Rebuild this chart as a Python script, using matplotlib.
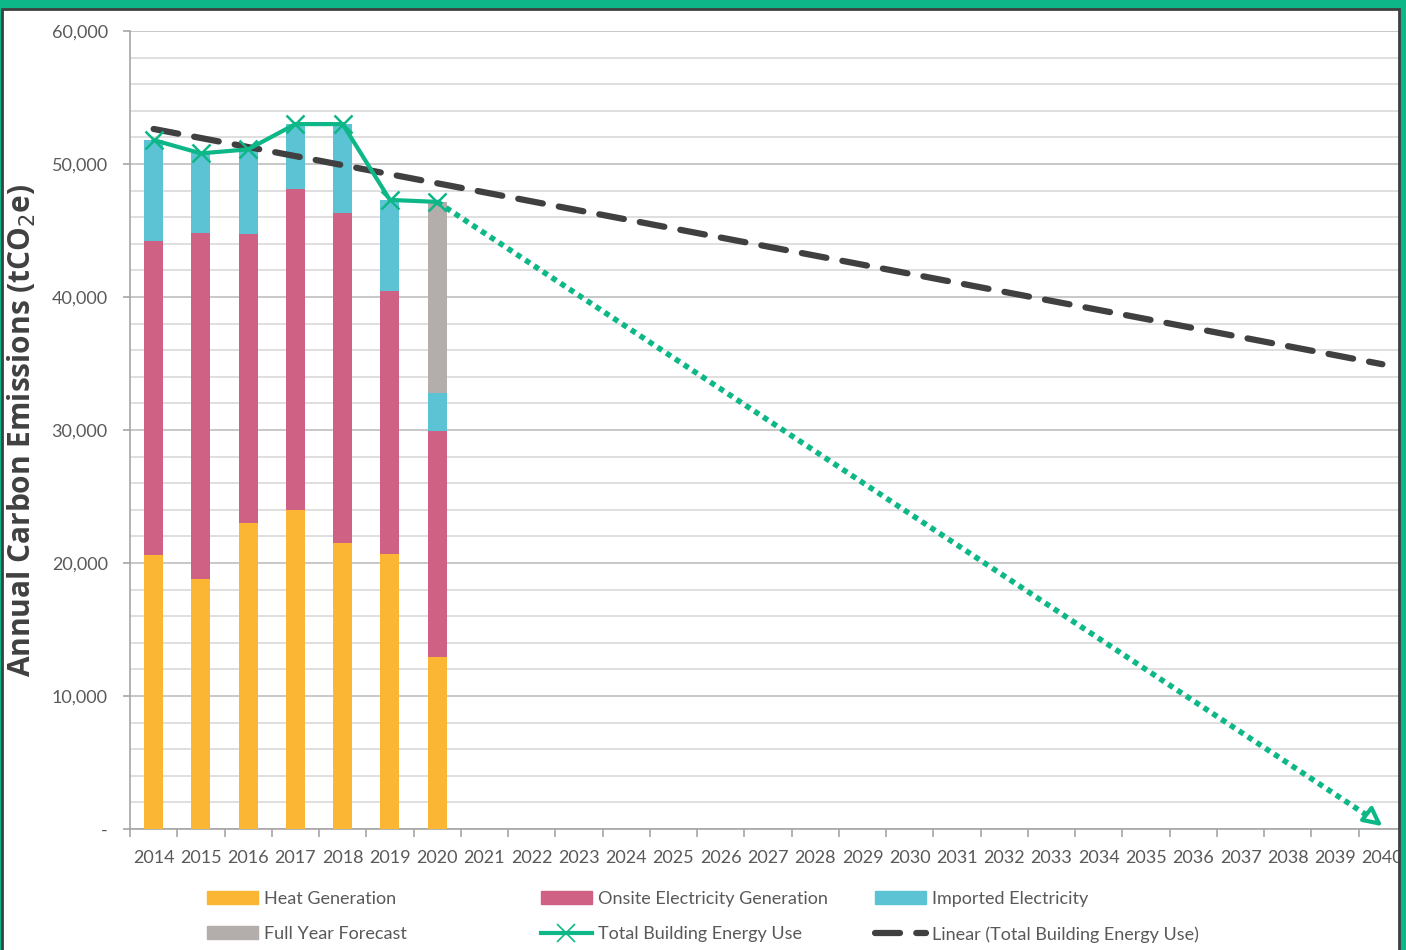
import numpy as np
import matplotlib
matplotlib.use("Agg")
import matplotlib.pyplot as plt
from matplotlib.patches import Patch, Rectangle
from matplotlib.lines import Line2D
from matplotlib.ticker import FixedLocator, FuncFormatter

plt.rcParams["font.family"] = ["Lato", "DejaVu Sans"]

# ---------------------------------------------------------------------------
# Data (tCO2e)
# ---------------------------------------------------------------------------
years = list(range(2014, 2041))
bar_years = [2014, 2015, 2016, 2017, 2018, 2019, 2020]
heat = [20600, 18800, 23000, 24000, 21500, 20700, 12900]
onsite = [23600, 26000, 21700, 24100, 24800, 19750, 17000]
imported = [7600, 6000, 6400, 4900, 6700, 6850, 2850]
forecast = [0, 0, 0, 0, 0, 0, 14400]
target_end = 0  # 2040 target

# Colours
C_HEAT = "#FBB634"
C_ONSITE = "#CF6184"
C_IMPORT = "#5BC3D4"
C_FORECAST = "#B3AEAB"
C_GREEN = "#0DB787"
C_TREND = "#404040"
C_TEXT = "#595959"

fig = plt.figure(figsize=(14.06, 9.5), dpi=100)
ax = fig.add_axes([130 / 1406, 121 / 950, 1276 / 1406, 798 / 950])

x_all = np.arange(len(years))
xb = np.array([years.index(y) for y in bar_years])
heat = np.array(heat)
onsite = np.array(onsite)
imported = np.array(imported)
forecast = np.array(forecast)

w = 0.40
ax.bar(xb, heat, w, color=C_HEAT, zorder=3)
ax.bar(xb, onsite, w, bottom=heat, color=C_ONSITE, zorder=3)
ax.bar(xb, imported, w, bottom=heat + onsite, color=C_IMPORT, zorder=3)
ax.bar(xb, forecast, w, bottom=heat + onsite + imported, color=C_FORECAST, zorder=3)

total = heat + onsite + imported + forecast
ax.plot(xb, total, color=C_GREEN, lw=3, marker="x", ms=13, mew=1.8, zorder=5)

# linear trend of the totals
slope, icpt = np.polyfit(xb, total, 1)
ax.plot(x_all, icpt + slope * x_all, color=C_TREND, lw=4.5,
        dashes=(4, 2.6), dash_capstyle="round", zorder=4)

# dotted path to net zero in 2040
x0, y0 = xb[-1], total[-1]
x1 = years.index(2040)
ax.plot([x0, x1 - 0.25], [y0, target_end + 850], color=C_GREEN, lw=4,
        linestyle=(0, (1.0, 0.9)), zorder=5)
ax.annotate("", xy=(x1 + 0.05, target_end + 80), xytext=(x1 - 0.3, 1050),
            arrowprops=dict(arrowstyle="-|>,head_length=1.1,head_width=0.55",
                            color=C_GREEN, lw=3, fc="white"), zorder=6)

# axes
ax.set_xlim(-0.5, len(years) - 0.5)
ax.set_ylim(0, 60000)
ax.set_xticks(x_all)
ax.set_xticklabels([str(y) for y in years])
ax.xaxis.set_minor_locator(FixedLocator(np.arange(-0.5, len(years), 1.0)))
ax.tick_params(axis="x", which="major", length=0, pad=15, labelsize=13, labelcolor=C_TEXT)
ax.tick_params(axis="x", which="minor", length=6, color="#A6A6A6", width=1.2)

ax.set_yticks(np.arange(0, 60001, 10000))
ax.yaxis.set_minor_locator(FixedLocator(np.arange(0, 60001, 2000)))
ax.yaxis.set_major_formatter(FuncFormatter(lambda v, p: "-" if v == 0 else f"{v:,.0f}"))
ax.tick_params(axis="y", which="major", length=5, color="#A6A6A6", width=1.2,
               labelsize=13, labelcolor=C_TEXT, pad=11)
ax.tick_params(axis="y", which="minor", length=0)
ax.grid(axis="y", which="major", color="#BFBFBF", lw=1.2, zorder=0)
ax.grid(axis="y", which="minor", color="#D9D9D9", lw=1.2, zorder=0)
ax.set_axisbelow(True)

for s in ["top", "right"]:
    ax.spines[s].set_visible(False)
for s in ["left", "bottom"]:
    ax.spines[s].set_color("#A6A6A6")
    ax.spines[s].set_linewidth(1.2)

fig.text(22 / 1406, 1 - 430 / 950, "Annual Carbon Emissions (tCO$_2$e)", rotation=90,
         ha="center", va="center", fontsize=21.5, fontweight="bold", color="#404040",
         family=["Open Sans", "DejaVu Sans"])

# legend: three columns placed like Excel
col1 = [Patch(color=C_HEAT, label="Heat Generation"),
        Patch(color=C_FORECAST, label="Full Year Forecast")]
col2 = [Patch(color=C_ONSITE, label="Onsite Electricity Generation"),
        Line2D([], [], color=C_GREEN, lw=3, marker="x", ms=13, mew=1.2,
               label="Total Building Energy Use")]
col3 = [Patch(color=C_IMPORT, label="Imported Electricity"),
        Line2D([], [], color=C_TREND, lw=4.5, dashes=(4, 2.6), dash_capstyle="round",
               label="Linear (Total Building Energy Use)")]
for handles, xpos in [(col1, 207), (col2, 541), (col3, 875)]:
    leg = fig.legend(handles=handles, loc="upper left",
                     bbox_to_anchor=(xpos / 1406, 1 - 891 / 950),
                     frameon=False, fontsize=13, handlelength=2.8, handleheight=0.7,
                     handletextpad=0.35, borderpad=0, borderaxespad=0,
                     labelspacing=1.05, labelcolor=C_TEXT)

# green frame around the chart
fig.add_artist(Rectangle((0, 1 - 8 / 950), 1, 8 / 950, transform=fig.transFigure,
                         color=C_GREEN, zorder=20))
fig.add_artist(Rectangle((0, 0), 2 / 1406, 1, transform=fig.transFigure,
                         color=C_GREEN, zorder=20))
fig.add_artist(Rectangle((1399 / 1406, 0), 7 / 1406, 1, transform=fig.transFigure,
                         color=C_GREEN, zorder=20))
fig.add_artist(Rectangle((2 / 1406, -0.01), 1397 / 1406, 1.01 - 9 / 950,
                         transform=fig.transFigure, fill=False,
                         ec="#404040", lw=2, zorder=21))

fig.savefig("out.png", dpi=100)
